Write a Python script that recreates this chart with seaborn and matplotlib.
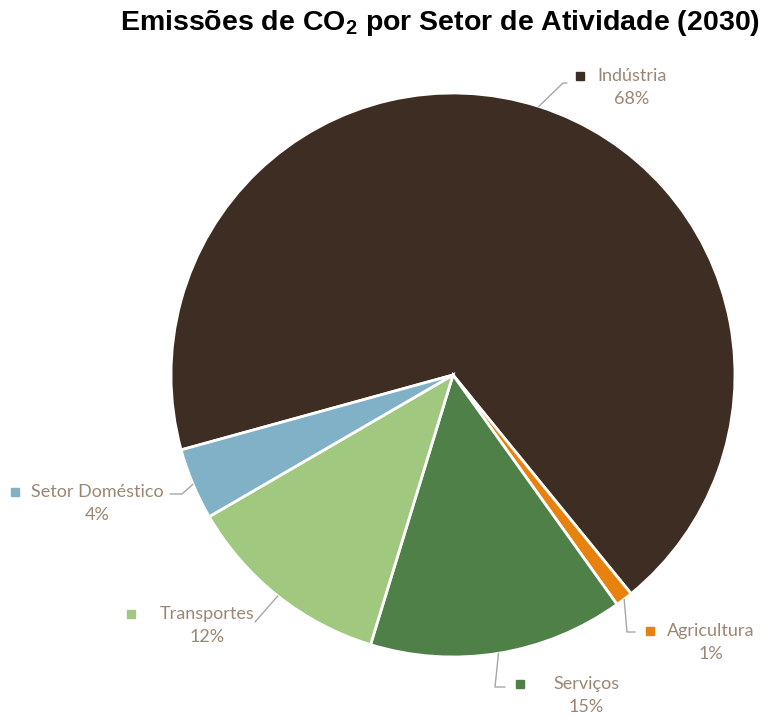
import numpy as np
import matplotlib
matplotlib.use("Agg")
import matplotlib.pyplot as plt
import seaborn as sns

# --------------------------
# Data
# --------------------------
setores = ["Indústria", "Agricultura", "Serviços", "Transportes", "Setor Doméstico"]
valores = [68.4, 1.0, 14.6, 11.9, 4.1]
cores = ["#3E2D23", "#E8820E", "#4E8048", "#A0C97F", "#80B1C6"]

# --------------------------
# Layout (pixel coords, top-left origin)
# --------------------------
W, H = 768, 718
centro = (453, 375)
raio = 282
# label: (x of square, x centre of text, y of name line)
pos_label = {
    "Indústria": (580, 632, 76),
    "Agricultura": (650, 711, 631),
    "Serviços": (520, 586, 684),
    "Transportes": (131, 207, 614),
    "Setor Doméstico": (15, 97, 492),
}
# leader line elbows (pixel coords)
cotovelo = {
    "Indústria": [(563, 83), (567, 83)],
    "Agricultura": [(627, 632), (635, 632)],
    "Serviços": [(495, 687), (505, 687)],
    "Transportes": [(255, 622)],
    "Setor Doméstico": [(182, 494), (170, 494)],
}

cor_texto = "#9C8673"
cor_linha = "#A6A6A6"


def fy(y):
    return H - y


sns.set_theme(style="white")
plt.rcParams["font.family"] = ["Lato", "DejaVu Sans"]
plt.rcParams["mathtext.fontset"] = "custom"
plt.rcParams["mathtext.bf"] = "Liberation Sans:bold"
plt.rcParams["mathtext.rm"] = "Liberation Sans:bold"

fig = plt.figure(figsize=(W / 100, H / 100), dpi=100)
ax = fig.add_axes([0, 0, 1, 1])

wedges, _ = ax.pie(valores, colors=cores, startangle=195.4, counterclock=False,
                   center=(centro[0], fy(centro[1])), radius=raio,
                   wedgeprops=dict(edgecolor="white", linewidth=2))
ax.set_xlim(0, W)
ax.set_ylim(0, H)
ax.set_aspect("equal")
ax.axis("off")

for w, nome, v, cor in zip(wedges, setores, valores, cores):
    ang = np.deg2rad((w.theta1 + w.theta2) / 2)
    x0 = centro[0] + raio * np.cos(ang)
    y0 = centro[1] - raio * np.sin(ang)
    pts = [(x0, y0)] + cotovelo[nome]
    ax.plot([p[0] for p in pts], [fy(p[1]) for p in pts], color=cor_linha, lw=1)

    xs, xc, yl = pos_label[nome]
    ax.plot(xs, fy(yl), marker="s", markersize=6, color=cor, ls="none")
    ax.text(xc, fy(yl), nome, ha="center", va="center", fontsize=13, color=cor_texto)
    ax.text(xc, fy(yl + 23), f"{v:.0f}%", ha="center", va="center", fontsize=13,
            color=cor_texto)

fig.text(440 / W, 1 - 23 / H, r"Emissões de CO$_\mathbf{2}$ por Setor de Atividade (2030)",
         ha="center", va="center", fontsize=20.5, fontweight="bold",
         family="Liberation Sans", color="black")

fig.savefig("out.png", dpi=100)
